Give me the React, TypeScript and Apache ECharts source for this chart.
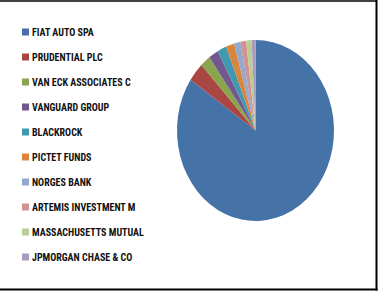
import React, { useEffect, useRef } from "react";
import * as echarts from "echarts";

const holders = [
  "FIAT AUTO SPA",
  "PRUDENTIAL PLC",
  "VAN ECK ASSOCIATES C",
  "VANGUARD GROUP",
  "BLACKROCK",
  "PICTET FUNDS",
  "NORGES BANK",
  "ARTEMIS INVESTMENT M",
  "MASSACHUSETTS MUTUAL",
  "JPMORGAN CHASE & CO",
];
const shares = [84.5, 3.4, 2.1, 2.0, 1.9, 1.7, 1.3, 1.2, 1.1, 0.8];
const colors = [
  "#4572A7",
  "#AA4643",
  "#89A54E",
  "#71588F",
  "#4198AF",
  "#DB843D",
  "#93A9CF",
  "#D19392",
  "#B9CD96",
  "#A99BBD",
];

const CX = 255.5;
const CY = 130.5;
const RX = 78.5;
const RY = 90.5;

export default function App() {
  const ref = useRef<HTMLDivElement>(null);
  useEffect(() => {
    if (!ref.current) return;
    const chart = echarts.init(ref.current, null, { renderer: "svg" });
    const total = shares.reduce((a, b) => a + b, 0);
    const starts: number[] = [];
    let acc = 0;
    shares.forEach((v) => {
      starts.push(acc);
      acc += v;
    });
    const series = holders.map((name, i) => ({
      type: "custom",
      name,
      coordinateSystem: "none",
      itemStyle: { color: colors[i] },
      data: [{ name, value: shares[i] }],
      renderItem: (params: any, api: any) => {
        const v = api.value(0);
        const a0 = -Math.PI / 2 + (2 * Math.PI * starts[i]) / total;
        const a1 = a0 + (2 * Math.PI * v) / total;
        return {
          type: "sector",
          x: CX,
          y: CY,
          scaleY: RY / RX,
          shape: { cx: 0, cy: 0, r0: 0, r: RX, startAngle: a0, endAngle: a1, clockwise: true },
          style: { fill: colors[i] },
        };
      },
    }));
    chart.setOption({
      animation: false,
      backgroundColor: "#ffffff",
      legend: {
        orient: "vertical",
        left: 17,
        top: 22,
        itemWidth: 7,
        itemHeight: 7,
        itemGap: 15,
        icon: "rect",
        data: holders,
        selectedMode: false,
        textStyle: {
          fontFamily: "'Liberation Sans Narrow', 'Roboto Condensed', 'Liberation Sans', sans-serif",
          fontWeight: "bold",
          fontSize: 10,
          lineHeight: 10,
          color: "#111111",
          padding: [0, 0, 0, -2],
        },
      },
      graphic: [
        { type: "line", shape: { x1: 0, y1: 1, x2: 377, y2: 1 }, style: { stroke: "#000", lineWidth: 1.5 } },
        { type: "line", shape: { x1: 376.5, y1: 0, x2: 376.5, y2: 290.5 }, style: { stroke: "#000", lineWidth: 2 } },
        { type: "line", shape: { x1: 0, y1: 289.5, x2: 377.5, y2: 289.5 }, style: { stroke: "#000", lineWidth: 2 } },
      ],
      series,
    });
    return () => chart.dispose();
  }, []);
  return (
    <div
      ref={ref}
      style={{ position: "fixed", left: 0, top: 0, width: 387, height: 297 }}
    />
  );
}
